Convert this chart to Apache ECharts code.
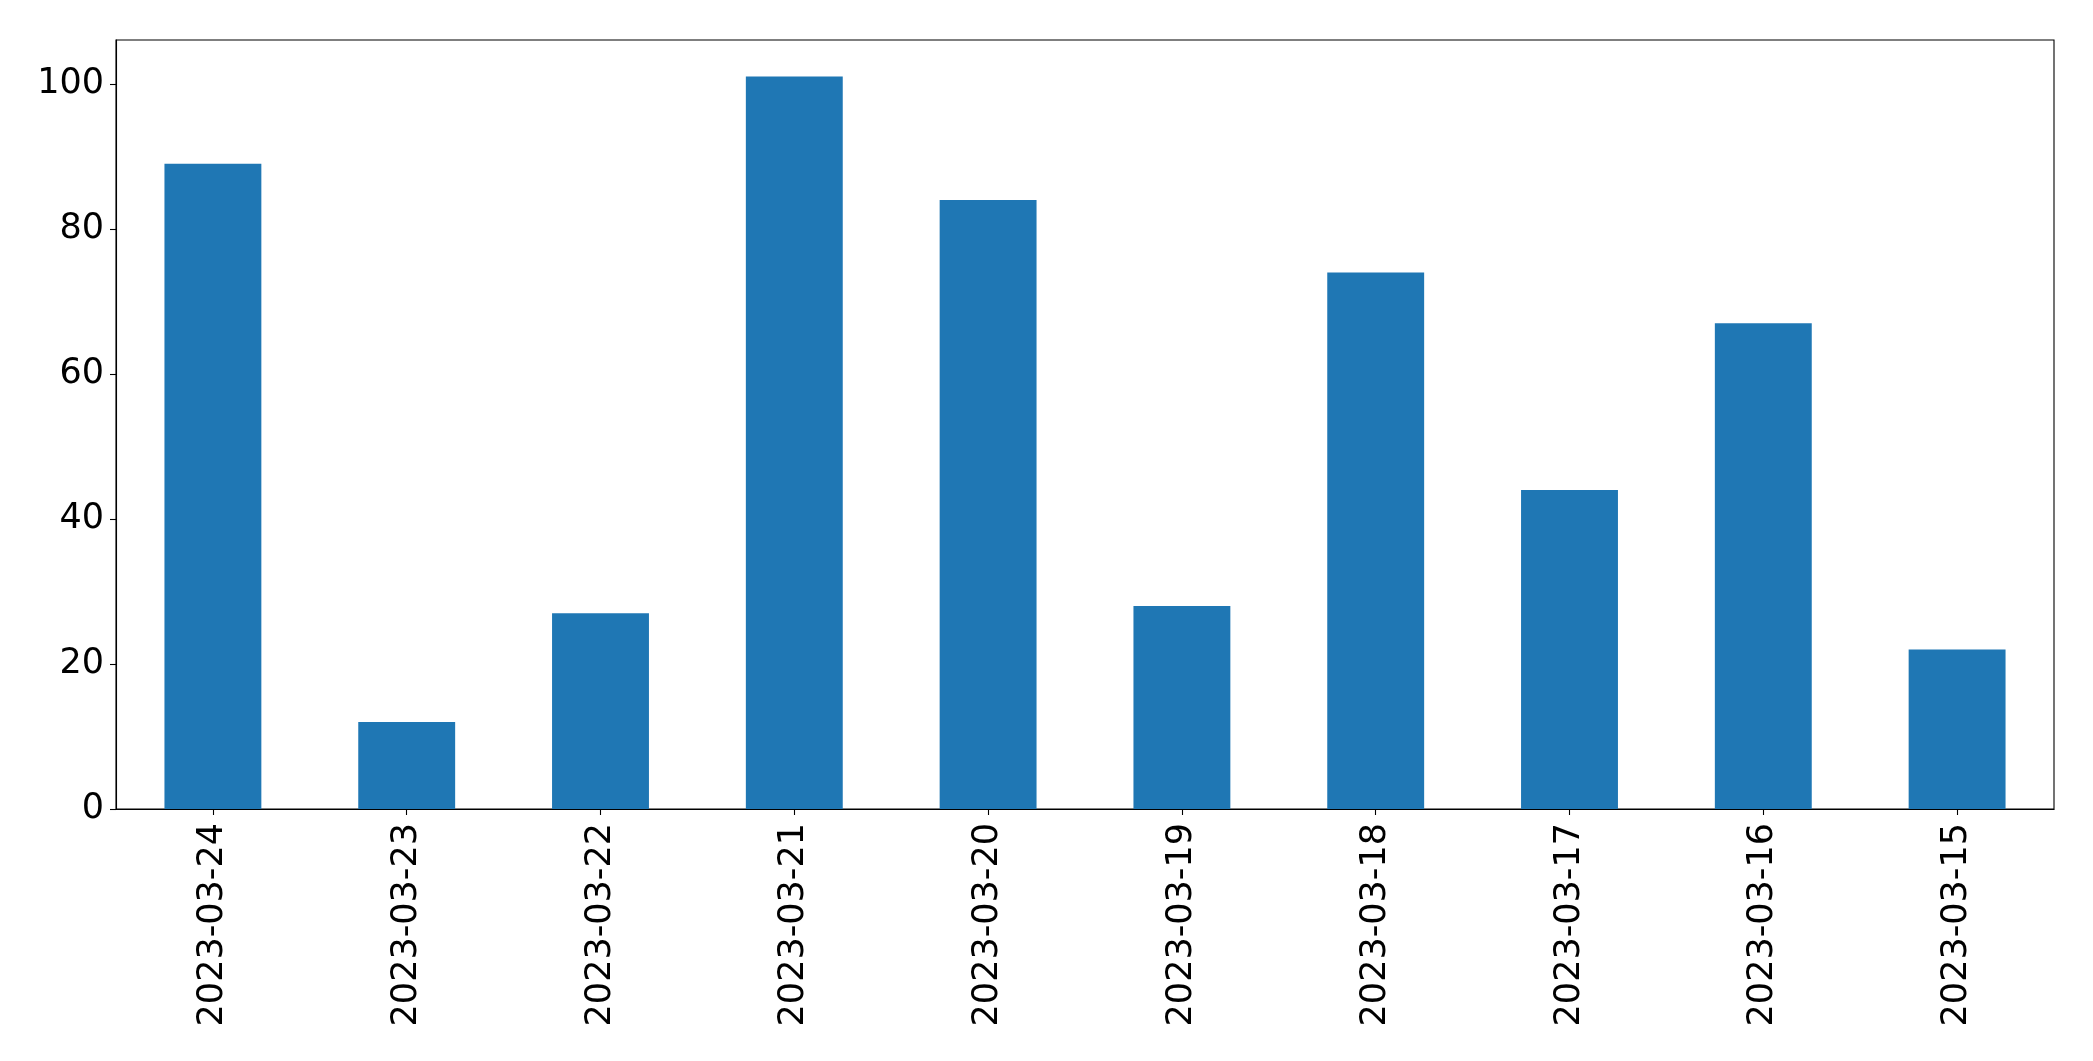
<!DOCTYPE html>
<html>
<head>
<meta charset="utf-8">
<script src="https://cdn.jsdelivr.net/npm/echarts@6/dist/echarts.min.js"></script>
<style>html,body{margin:0;padding:0;background:#fff;}#c{width:2093px;height:1061px;}</style>
</head>
<body>
<div id="c"></div>
<script>
const categories = ["2023-03-24","2023-03-23","2023-03-22","2023-03-21","2023-03-20","2023-03-19","2023-03-18","2023-03-17","2023-03-16","2023-03-15"];
const values = [89, 12, 27, 101, 84, 28, 74, 44, 67, 22];
const yTicks = [0, 20, 40, 60, 80, 100];

const chart = echarts.init(document.getElementById('c'), null, {renderer: 'canvas'});
const font = 'DejaVu Sans';
chart.setOption({
  animation: false,
  backgroundColor: '#ffffff',
  grid: {left: 116, right: 39, top: 40, bottom: 252, show: true, borderColor: '#000', borderWidth: 1.1, backgroundColor: 'transparent'},
  xAxis: {
    type: 'category',
    data: categories,
    boundaryGap: true,
    axisLine: {show: true, lineStyle: {color: '#000', width: 1.1}},
    axisTick: {show: true, alignWithLabel: true, length: 6, lineStyle: {color: '#000', width: 1.1}},
    axisLabel: {rotate: 90, margin: 14, color: '#000', fontFamily: font, fontSize: 35, interval: 0},
    splitLine: {show: false}
  },
  yAxis: {
    type: 'value',
    min: 0,
    max: 106.05,
    axisLine: {show: true, lineStyle: {color: '#000', width: 1.1}},
    axisTick: {show: true, length: 6, lineStyle: {color: '#000', width: 1.1}, customValues: yTicks},
    axisLabel: {margin: 12, color: '#000', fontFamily: font, fontSize: 35, customValues: yTicks},
    splitLine: {show: false}
  },
  series: [{
    type: 'bar',
    data: values,
    barWidth: '50%',
    itemStyle: {color: '#1f77b4'}
  }]
});
</script>
</body>
</html>
